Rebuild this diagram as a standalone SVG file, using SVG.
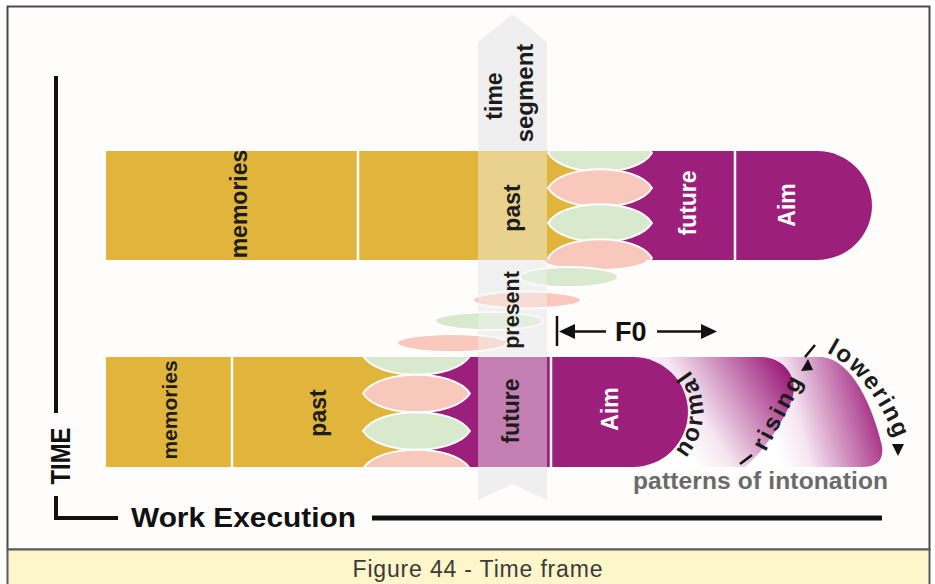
<svg xmlns="http://www.w3.org/2000/svg" width="935" height="584" viewBox="0 0 935 584">
  <defs>
    <style>
      text { font-family: "Liberation Sans", Arial, sans-serif; }
      .lbl { font-size: 23px; font-weight: 700; fill: #1c1c1c; text-anchor: middle; }
      .wlbl { font-size: 23px; font-weight: 700; fill: #ffffff; text-anchor: middle; }
      .gold { fill: #e1b43b; }
      .purple { fill: #9d1f7c; }
      .pink { fill: #f9c8bd; stroke: #ffffff; stroke-width: 1.8; }
      .green { fill: #d8e9cd; stroke: #ffffff; stroke-width: 1.8; }
      .div { stroke: #ffffff; stroke-width: 2.5; }
      .axis { stroke: #111111; stroke-width: 4; fill: none; }
      .curved { font-size: 24px; font-weight: 700; fill: #1c1c1c; letter-spacing: 3px; }
      .ink { fill: #111111; }
      .tick { stroke: #111111; stroke-width: 2.5; stroke-linecap: butt; }
    </style>
    <linearGradient id="g-normal" gradientUnits="userSpaceOnUse" x1="684" y1="448" x2="792" y2="382">
      <stop offset="0" stop-color="#ffffff"/>
      <stop offset="0.25" stop-color="#f6e6f1"/>
      <stop offset="1" stop-color="#9d1f7c"/>
    </linearGradient>
    <linearGradient id="g-lowering" gradientUnits="userSpaceOnUse" x1="772" y1="432" x2="880" y2="400">
      <stop offset="0" stop-color="#ffffff"/>
      <stop offset="0.25" stop-color="#f6e6f1"/>
      <stop offset="1" stop-color="#9d1f7c"/>
    </linearGradient>
    <clipPath id="clip-top-wave"><rect x="546" y="151" width="110" height="109"/></clipPath>
    <clipPath id="clip-bot-wave"><rect x="360" y="357" width="118" height="110"/></clipPath>
    <path id="p-normal" d="M676,467 A70,70 0 0 0 678,358"/>
    <path id="p-rising" d="M757,468 L813,363"/>
    <path id="p-lowering" d="M819,349 Q870,370 899,448"/>
  </defs>

  <!-- page and frame -->
  <rect x="0" y="0" width="935" height="584" fill="#ffffff"/>
  <rect x="7.5" y="6.5" width="922" height="543" fill="#fefdfc" stroke="#4a4a4a" stroke-width="2"/>

  <!-- time segment band (behind the bars) -->
  <g id="time-segment">
    <polygon points="478,42 512.5,14 547,42 547,500 512.5,484 478,500" fill="#efefef"/>
  </g>

  <!-- stepped oscillation between the two bars -->
  <g id="oscillation">
    <ellipse cx="595" cy="260" rx="52" ry="10" class="pink"/>
    <ellipse cx="569" cy="277" rx="49" ry="10" class="green"/>
    <ellipse cx="527" cy="300" rx="54" ry="8.5" class="pink"/>
    <ellipse cx="489" cy="321" rx="54" ry="9" class="green"/>
    <ellipse cx="452" cy="343" rx="55" ry="9" class="pink"/>
  </g>

  <!-- upper time line -->
  <g id="bar-top">
    <rect x="106" y="151" width="494" height="109" class="gold"/>
    <path d="M600,151 H817 A55,54.5 0 0 1 817,260 H600 Z" class="purple"/>
    <g clip-path="url(#clip-top-wave)">
      <path class="green" d="M548,153 C563,128 637,128 652,153 C637,178 563,178 548,153 Z"/>
      <path class="pink" d="M548,188 C563,163 637,163 652,188 C637,213 563,213 548,188 Z"/>
      <path class="green" d="M548,223 C563,198 637,198 652,223 C637,248 563,248 548,223 Z"/>
      <path class="pink" d="M548,258 C563,233 637,233 652,258 C637,283 563,283 548,258 Z"/>
    </g>
    <line x1="358" y1="151" x2="358" y2="260" class="div"/>
    <line x1="735" y1="151" x2="735" y2="260" class="div"/>
  </g>

  <!-- patterns of intonation beyond the lower Aim -->
  <g id="intonation">
    <path d="M760,357 H822 C852,360 872,405 882,446 Q885,467 862,467 H735 Z" fill="url(#g-lowering)"/>
    <path d="M640,357 H760 C786,357 800,380 791,402 C781,426 764,450 745,467 H640 Z" fill="url(#g-normal)"/>
  </g>

  <!-- lower time line -->
  <g id="bar-bottom">
    <rect x="106" y="357" width="310" height="110" class="gold"/>
    <path d="M416,357 H633 A55,55 0 0 1 633,467 H416 Z" class="purple"/>
    <g clip-path="url(#clip-bot-wave)">
      <path class="green" d="M363,356 C379,331 454,331 470,356 C454,381 379,381 363,356 Z"/>
      <path class="pink" d="M363,393.5 C379,368.5 454,368.5 470,393.5 C454,418.5 379,418.5 363,393.5 Z"/>
      <path class="green" d="M363,431 C379,406 454,406 470,431 C454,456 379,456 363,431 Z"/>
      <path class="pink" d="M363,468.5 C379,443.5 454,443.5 470,468.5 C454,493.5 379,493.5 363,468.5 Z"/>
    </g>
    <line x1="232" y1="357" x2="232" y2="467" class="div"/>
    <line x1="551" y1="357" x2="551" y2="467" class="div"/>
  </g>

  <!-- translucent veil of the time segment over the bars -->
  <rect x="478" y="151" width="69" height="316" fill="#f5f5f5" opacity="0.45"/>

  <!-- labels -->
  <g id="labels">
    <text class="lbl" transform="translate(247,204) rotate(-90)">memories</text>
    <text class="lbl" transform="translate(519.5,208) rotate(-90)">past</text>
    <text class="wlbl" transform="translate(696,203) rotate(-90)">future</text>
    <text class="wlbl" transform="translate(795,205) rotate(-90)">Aim</text>
    <text class="lbl" style="font-size:21.5px" transform="translate(518.5,310) rotate(-90)">present</text>
    <text class="lbl" style="font-size:21px" transform="translate(177,410) rotate(-90)">memories</text>
    <text class="lbl" transform="translate(326,413) rotate(-90)">past</text>
    <text class="lbl" transform="translate(519,411) rotate(-90)">future</text>
    <text class="wlbl" transform="translate(618,409) rotate(-90)">Aim</text>
    <text class="lbl" transform="translate(502,96) rotate(-90)">time</text>
    <text class="lbl" style="font-size:24px" transform="translate(533,93) rotate(-90)">segment</text>
    <text class="curved"><textPath href="#p-normal" startOffset="50%" text-anchor="middle">normal</textPath></text>
    <text class="curved"><textPath href="#p-rising" startOffset="50%" text-anchor="middle">rising</textPath></text>
    <text class="curved" style="letter-spacing:2px"><textPath href="#p-lowering" startOffset="50%" text-anchor="middle">lowering</textPath></text>
    <text x="633" y="489" style="font-size:24.5px;font-weight:700;fill:#6a6a6a" textLength="255">patterns of intonation</text>
    <text x="615" y="341" style="font-size:27px;font-weight:700;fill:#111">F0</text>
  </g>

  <!-- arrows and pitch marks -->
  <g id="connectors">
    <line x1="557" y1="316" x2="557" y2="346" stroke="#111" stroke-width="2.5"/>
    <line x1="572" y1="331.5" x2="606" y2="331.5" stroke="#111" stroke-width="2.5"/>
    <polygon points="559,331.5 575,324 575,339" class="ink"/>
    <line x1="657" y1="331.5" x2="702" y2="331.5" stroke="#111" stroke-width="2.5"/>
    <polygon points="717,331.5 701,324 701,339" class="ink"/>
    <line x1="740" y1="464" x2="752" y2="455" class="tick"/>
    <polygon points="808,359 801,371 813,370" class="ink"/>
    <line x1="805" y1="357" x2="815" y2="345" class="tick"/>
    <polygon points="898,456 892,444 904,444" class="ink"/>
  </g>

  <!-- axes -->
  <g id="axes">
    <line x1="56" y1="76" x2="56" y2="413" class="axis"/>
    <path d="M56,496 V518 H118" class="axis"/>
    <line x1="372" y1="518" x2="882" y2="518" stroke="#111" stroke-width="5"/>
    <text transform="translate(70,456) rotate(-90)" text-anchor="middle" textLength="57" lengthAdjust="spacingAndGlyphs" style="font-size:28px;font-weight:700;fill:#111">TIME</text>
    <text x="131" y="527" textLength="225" lengthAdjust="spacingAndGlyphs" style="font-size:28px;font-weight:700;fill:#111">Work Execution</text>
  </g>

  <!-- caption -->
  <g id="caption">
    <rect x="7.5" y="549.5" width="922" height="40" fill="#fdf6ca" stroke="#5a5a5a" stroke-width="2"/>
    <text x="477.5" y="577" text-anchor="middle" textLength="250" style="font-size:23px;fill:#3b3b3b">Figure 44 - Time frame</text>
  </g>
</svg>
